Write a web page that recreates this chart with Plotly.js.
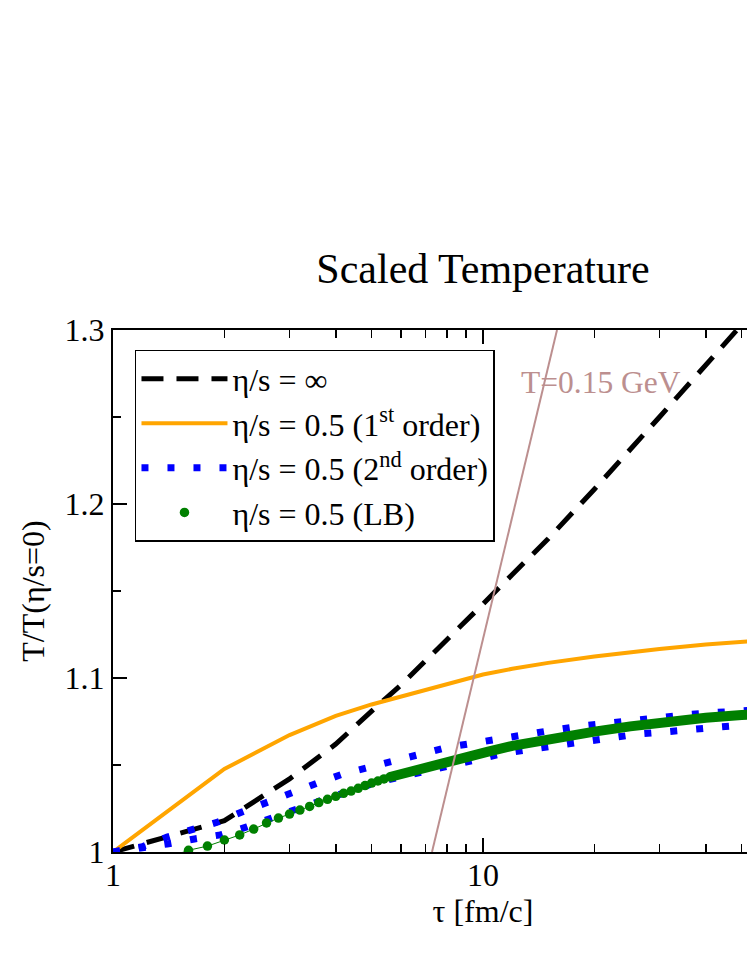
<!DOCTYPE html>
<html>
<head>
<meta charset="utf-8">
<script src="https://cdn.plot.ly/plotly-3.0.1.min.js"></script>
<style>
  html, body { margin: 0; padding: 0; background: #ffffff; overflow: hidden; }
  #graph { width: 893px; height: 967px; }
</style>
</head>
<body>
<div id="graph"></div>
<script>
// --- Data ---
const idealTau = [1, 2, 3, 4, 5, 6, 7, 8, 9, 10, 12, 15, 20, 25, 30, 35, 40, 45, 50, 55];
const idealT = [1.0, 1.018, 1.042, 1.062, 1.081, 1.096, 1.110, 1.122, 1.133, 1.1425, 1.1595, 1.180,
  1.2085, 1.231, 1.250, 1.266, 1.280, 1.2925, 1.303, 1.312];

const firstTau = [1, 2, 3, 4, 5, 6, 7, 8, 9, 10, 12, 15, 20, 25, 30, 40, 50, 55];
const firstT = [1.0, 1.0477, 1.0672, 1.0782, 1.0848, 1.0893, 1.093, 1.096, 1.0993, 1.102, 1.1053, 1.1087,
  1.1123, 1.1148, 1.1167, 1.1193, 1.1208, 1.1213];

// second order result shows two strands
const secondUpTau = [1, 1.2, 1.4, 1.64, 1.92, 2.23, 2.6, 3.07, 3.58, 4.18, 4.92, 5.81, 6.83, 8.05, 9.46,
  11.2, 13.1, 15.5, 18.4, 21.6, 25.5, 30.2, 35.5, 42, 50, 55];
const secondUpT = [1.0, 1.003, 1.0086, 1.0132, 1.0172, 1.023, 1.0287, 1.0345, 1.0397, 1.0448, 1.0489,
  1.0529, 1.0569, 1.0603, 1.0626, 1.0655, 1.0678, 1.0701, 1.0724, 1.0741, 1.0759, 1.0776, 1.0789,
  1.0801, 1.0812, 1.0817];
const secondLoTau = [1, 1.2, 1.4, 1.66, 1.95, 2.3, 2.69, 3.14, 3.69, 4.31, 5.11, 5.97, 7.05, 8.25, 9.69,
  11.5, 13.6, 16, 18.9, 22.3, 26.3, 31, 36.7, 43.2, 51, 55];
const secondLoT = [1.0, 1.002, 1.0046, 1.0075, 1.0098, 1.0144, 1.0201, 1.0247, 1.0299, 1.0345, 1.0397,
  1.0431, 1.0466, 1.05, 1.0534, 1.0569, 1.0592, 1.0615, 1.0638, 1.0661, 1.0678, 1.069, 1.0707,
  1.0718, 1.073, 1.0735];

// LB points (separate dots at early times)
const lbTau = [1.4, 1.6, 1.8, 2.0, 2.2, 2.4, 2.6, 2.8, 3.0, 3.2, 3.4, 3.6, 3.8, 4.0, 4.2, 4.4, 4.6, 4.8,
  5.0, 5.2, 5.4, 5.6];
const lbT = [0.9966, 1.001, 1.0034, 1.0069, 1.0098, 1.0132, 1.0167, 1.0195, 1.0218, 1.0241, 1.0262,
  1.0284, 1.0303, 1.032, 1.0337, 1.035, 1.0366, 1.0382, 1.0396, 1.0408, 1.042, 1.0431];
// LB points merge into a band at later times
const lbBandTau = [5.6, 6.87, 8.51, 10.26, 12, 15, 20, 25, 30, 40, 50, 55];
const lbBandT = [1.0431, 1.0483, 1.0529, 1.0575, 1.061, 1.0652, 1.0692, 1.0722, 1.0745, 1.0772, 1.0787, 1.0793];

// T = 0.15 GeV line
const freezeTau = [7.28, 15.85];
const freezeT = [1.0, 1.3];

const xMajor = [1, 10];
const xMajorText = ['1', '10'];
const xMinor = [2, 3, 4, 5, 6, 7, 8, 9, 20, 30, 40, 50, 60, 70, 80, 90];
const yMajor = [1, 1.1, 1.2, 1.3];
const yMajorText = ['1', '1.1', '1.2', '1.3'];
const yMinor = [1.05, 1.15, 1.25];

const FONT = 'Liberation Serif, Times New Roman, serif';

var traces = [
  {
    x: idealTau, y: idealT, mode: 'lines', name: 'η/s = ∞',
    line: { color: '#000000', width: 5, dash: '22px,13px' }
  },
  {
    x: firstTau, y: firstT, mode: 'lines', name: 'η/s = 0.5 (1<sup>st</sup> order)',
    line: { color: '#ffa500', width: 4 }
  },
  {
    x: secondUpTau, y: secondUpT, mode: 'lines', name: 'η/s = 0.5 (2<sup>nd</sup> order)',
    line: { color: '#0000ff', width: 7, dash: '7px,19px' }
  },
  {
    x: secondLoTau, y: secondLoT, mode: 'lines', showlegend: false,
    line: { color: '#0000ff', width: 7, dash: '7px,19px' }
  },
  {
    x: lbTau, y: lbT, mode: 'lines', showlegend: false,
    line: { color: '#008000', width: 1 }
  },
  {
    x: lbBandTau, y: lbBandT, mode: 'lines', showlegend: false,
    line: { color: '#008000', width: 10 }
  },
  {
    x: lbTau, y: lbT, mode: 'markers', name: 'η/s = 0.5 (LB)',
    marker: { color: '#008000', size: 9.5 }
  },
  {
    x: freezeTau, y: freezeT, mode: 'lines', showlegend: false,
    line: { color: '#bc8f8f', width: 2 }
  }
];

var axisCommon = {
  showgrid: false, zeroline: false,
  showline: true, linecolor: '#000000', linewidth: 2, mirror: 'ticks',
  ticks: 'inside', ticklen: 14, tickwidth: 1.5, tickcolor: '#000000',
  tickfont: { family: FONT, size: 32, color: '#000000' }
};

var layout = {
  width: 893, height: 967,
  margin: { l: 113, r: 40, t: 330, b: 115 },
  paper_bgcolor: '#ffffff', plot_bgcolor: '#ffffff',
  title: {
    text: 'Scaled Temperature', font: { family: FONT, size: 42, color: '#000000' },
    xref: 'paper', x: 0.5, yref: 'container', y: 1 - 268 / 967, yanchor: 'middle'
  },
  xaxis: Object.assign({}, axisCommon, {
    type: 'log', range: [0, 2],
    tickmode: 'array', tickvals: xMajor, ticktext: xMajorText, ticklabelstandoff: -6,
    minor: { tickmode: 'array', tickvals: xMinor, ticks: 'inside', ticklen: 8, tickwidth: 1.5, tickcolor: '#000000' },
    title: { text: 'τ [fm/c]', font: { family: FONT, size: 32, color: '#000000' }, standoff: 0 }
  }),
  yaxis: Object.assign({}, axisCommon, {
    range: [1, 1.3],
    tickmode: 'array', tickvals: yMajor, ticktext: yMajorText,
    minor: { tickmode: 'array', tickvals: yMinor, ticks: 'inside', ticklen: 8, tickwidth: 1.5, tickcolor: '#000000' },
    title: { text: 'T/T(η/s=0)', font: { family: FONT, size: 32, color: '#000000' }, standoff: 10 }
  }),
  showlegend: true,
  legend: {
    x: 0.0297, y: 0.962, xanchor: 'left', yanchor: 'top',
    bgcolor: '#ffffff', bordercolor: '#000000', borderwidth: 1.5,
    font: { family: FONT, size: 32, color: '#000000' },
    itemwidth: 86, traceorder: 'normal'
  },
  annotations: [{
    text: 'T=0.15 GeV', xref: 'paper', yref: 'paper',
    x: (519 - 113) / 740, y: (852 - 382) / 522, xanchor: 'left', yanchor: 'middle',
    showarrow: false, font: { family: FONT, size: 31.5, color: '#bc8f8f' }
  }]
};

Plotly.newPlot('graph', traces, layout, { displayModeBar: false, staticPlot: true });
</script>
</body>
</html>
